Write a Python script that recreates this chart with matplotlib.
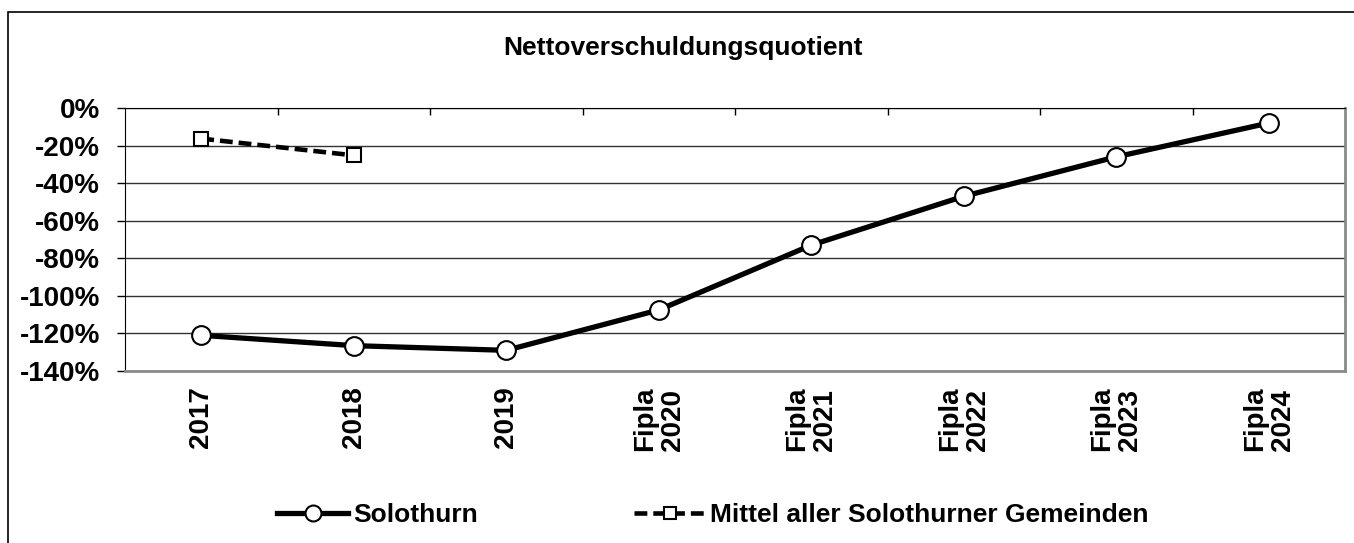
import numpy as np
import matplotlib
matplotlib.use("Agg")
import matplotlib.pyplot as plt
from matplotlib.patches import Rectangle

# Data
categories = ["2017", "2018", "2019", "Fipla\n2020", "Fipla\n2021",
              "Fipla\n2022", "Fipla\n2023", "Fipla\n2024"]
solothurn = [-121, -126.5, -129, -107.5, -73, -47, -26, -8]
mittel = [-16.3, -25.2]
y_ticks = [0, -20, -40, -60, -80, -100, -120, -140]

plt.rcParams['font.family'] = ['Liberation Sans', 'DejaVu Sans']
plt.rcParams['font.weight'] = 'bold'

fig = plt.figure(figsize=(13.54, 5.43), dpi=100)
ax = fig.add_axes([125 / 1354, 1 - 371 / 543, 1220 / 1354, 263 / 543])

x = np.arange(len(categories))

# grid lines behind the data
for yv in y_ticks:
    ax.axhline(yv, color='#333333', lw=1.0, zorder=1)

ax.plot(x, solothurn, color='black', lw=3.8, marker='o', markersize=13.5,
        markerfacecolor='white', markeredgecolor='black', markeredgewidth=1.5,
        label='Solothurn', zorder=3)
ax.plot(x[:len(mittel)], mittel, color='black', lw=3.3, dashes=[2.8, 1.3],
        marker='s', markersize=10, markerfacecolor='white',
        markeredgecolor='black', markeredgewidth=1.5,
        label='Mittel aller Solothurner Gemeinden', zorder=3)

ax.set_xlim(-0.5, len(categories) - 0.5)
ax.set_ylim(-140, 0)
ax.set_yticks(y_ticks)
ax.set_yticklabels([f"{v}%" for v in y_ticks], fontsize=20, fontweight='bold')
ax.tick_params(axis='y', length=6, width=1, pad=12)

ax.set_xticks(x)
ax.set_xticklabels(categories, rotation=90, fontsize=20, fontweight='bold',
                   va='top', ha='center', multialignment='left',
                   linespacing=1.1)
ax.tick_params(axis='x', which='major', length=0, pad=11)
ax.set_xticks(np.arange(0.5, len(categories) - 0.5, 1), minor=True)
ax.tick_params(axis='x', which='minor', top=True, bottom=False,
               direction='in', length=5, width=1)

ax.spines['left'].set_color('black')
ax.spines['top'].set_color('black')
ax.spines['right'].set_color('#8a8a8a')
ax.spines['bottom'].set_color('#8a8a8a')
ax.spines['right'].set_linewidth(2)
ax.spines['bottom'].set_linewidth(2)

fig.text(683 / 1354, 1 - 48 / 543, "Nettoverschuldungsquotient",
         ha='center', va='center', fontsize=19, fontweight='bold')

fig.legend(loc='center', bbox_to_anchor=(713 / 1354, 28 / 543), ncol=2,
           frameon=False, fontsize=19, handlelength=2.7, handletextpad=0.2,
           columnspacing=5.9, markerscale=0.85)

# outer chart frame
fig.patches.append(Rectangle((8 / 1354, -0.1), 1.2, 1.1 - 12 / 543,
                             transform=fig.transFigure, fill=False,
                             edgecolor='black', lw=1.2))

fig.savefig("out.png", dpi=100)
